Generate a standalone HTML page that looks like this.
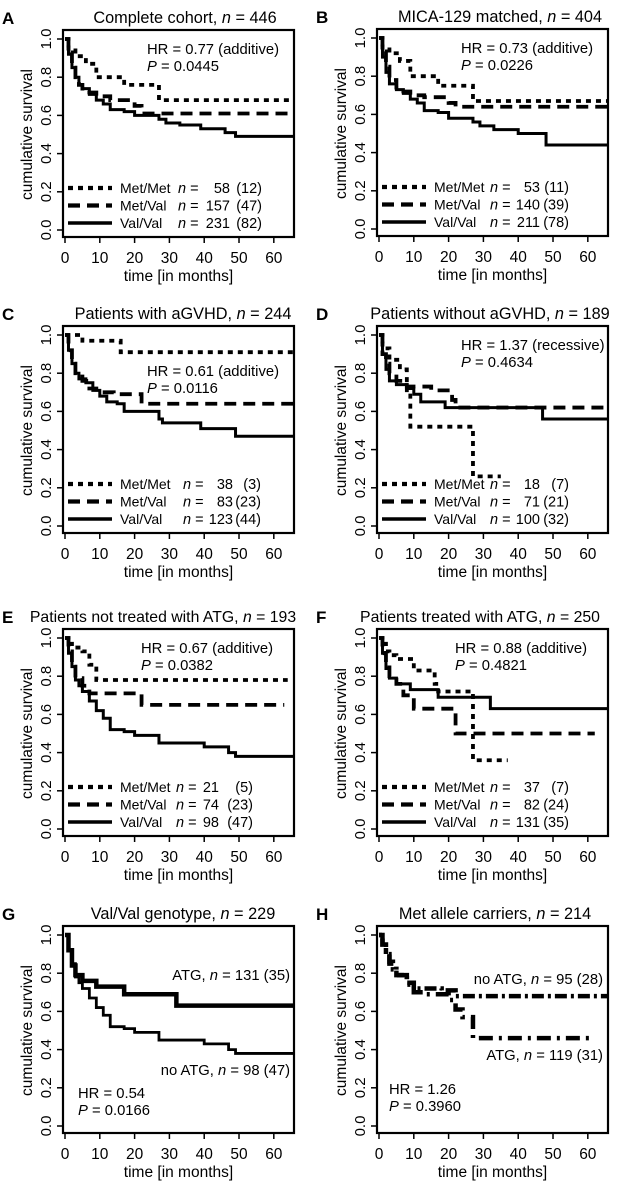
<!DOCTYPE html>
<html><head><meta charset="utf-8">
<style>
html,body{margin:0;padding:0;background:#fff;}
svg{display:block;font-family:"Liberation Sans",Arial,sans-serif;}
</style></head>
<body>
<svg id="fig" width="620" height="1182" viewBox="0 0 620 1182"></svg>
<script>
// ---- data (time in months, survival probability; step starts at each time) ----
const A_mm_t=[0,1,3,6,9,17,27,66], A_mm_s=[1,0.95,0.91,0.87,0.80,0.76,0.68,0.68];
const A_mv_t=[0,1,2,3,4,5,7,9,13,20,22,66], A_mv_s=[1,0.93,0.85,0.80,0.76,0.74,0.72,0.70,0.68,0.65,0.61,0.61];
const A_vv_t=[0,1,2,3,4,5,7,9,11,13,17,20,27,29,33,39,46,49,66], A_vv_s=[1,0.92,0.85,0.80,0.76,0.74,0.71,0.68,0.66,0.63,0.62,0.60,0.58,0.56,0.55,0.53,0.51,0.49,0.49];
const B_mm_t=[0,1,3,6,9,17,27,66], B_mm_s=[1,0.95,0.92,0.88,0.80,0.75,0.67,0.67];
const B_mv_t=[0,1,2,3,5,7,9,13,20,22,66], B_mv_s=[1,0.93,0.85,0.78,0.74,0.72,0.70,0.69,0.66,0.64,0.64];
const B_vv_t=[0,1,2,3,5,7,9,11,13,17,20,27,29,33,40,48,66], B_vv_s=[1,0.90,0.82,0.76,0.73,0.71,0.68,0.66,0.62,0.61,0.58,0.56,0.54,0.52,0.50,0.44,0.44];
const C_mm_t=[0,5,16,66], C_mm_s=[1,0.97,0.91,0.91];
const C_mv_t=[0,1,2,3,5,7,9,14,22,66], C_mv_s=[1,0.92,0.85,0.80,0.76,0.72,0.70,0.69,0.64,0.64];
const C_vv_t=[0,1,2,3,4,6,8,10,12,15,17,27,28,39,49,66], C_vv_s=[1,0.92,0.85,0.80,0.77,0.75,0.71,0.68,0.65,0.64,0.60,0.56,0.54,0.51,0.47,0.47];
const D_mm_t=[0,1,3,6,8,9,27,35], D_mm_s=[1,0.93,0.87,0.82,0.70,0.52,0.26,0.26];
const D_mv_t=[0,1,2,3,5,8,15,21,22,66], D_mv_s=[1,0.90,0.85,0.80,0.76,0.73,0.71,0.66,0.62,0.62];
const D_vv_t=[0,1,2,3,5,8,10,12,19,47,66], D_vv_s=[1,0.90,0.82,0.76,0.74,0.72,0.69,0.65,0.62,0.56,0.56];
const E_mm_t=[0,1,2,5,7,9,64], E_mm_s=[1,0.97,0.95,0.93,0.86,0.78,0.78];
const E_mv_t=[0,1,2,3,5,7,22,63], E_mv_s=[1,0.93,0.85,0.79,0.75,0.71,0.65,0.65];
const E_vv_t=[0,1,2,3,4,5,7,9,11,13,17,20,27,40,47,49,66], E_vv_s=[1,0.92,0.85,0.78,0.75,0.72,0.67,0.62,0.58,0.52,0.51,0.49,0.45,0.43,0.40,0.38,0.38];
const F_mm_t=[0,1,2,3,5,10,16,17,27,37], F_mm_s=[1,0.97,0.93,0.91,0.89,0.83,0.76,0.72,0.36,0.36];
const F_mv_t=[0,1,2,3,5,7,10,22,62], F_mv_s=[1,0.92,0.86,0.80,0.76,0.70,0.63,0.50,0.50];
const F_vv_t=[0,1,2,3,5,9,17,32,66], F_vv_s=[1,0.92,0.84,0.79,0.76,0.73,0.69,0.63,0.63];
const H_no_t=[0,1,2,3,4,5,8,10,18,22,66], H_no_s=[1,0.95,0.90,0.86,0.82,0.79,0.75,0.72,0.71,0.68,0.68];
const H_atg_t=[0,1,2,3,5,8,10,13,20,22,24,27,62], H_atg_s=[1,0.95,0.90,0.85,0.79,0.74,0.70,0.69,0.66,0.61,0.57,0.46,0.46];
const xTicks=[0,10,20,30,40,50,60];
const yTicks=[0,0.2,0.4,0.6,0.8,1.0];
const yTickLabels=["0.0","0.2","0.4","0.6","0.8","1.0"];

const NS="http://www.w3.org/2000/svg";
const svg=document.getElementById('fig');
function mk(tag,parent){const e=document.createElementNS(NS,tag);parent.appendChild(e);return e;}
const STY={mm:{w:3.8,d:"5,5"},mv:{w:3.8,d:"12,7"},vv:{w:3,d:""},atgG:{w:4.5,d:""},noG:{w:2.8,d:""},noH:{w:4.5,d:"3,4,12,4"},atgH:{w:4.5,d:"14,6,3,6"}};

function panel(p){
  const g=mk('g',svg);
  
  
  const L=p.bx, R=p.bx+231, Y1=p.y1, Y0=p.y1+191;
  const xs=t=>L+2+(t)*(R-L-2)/65.8;
  const ys=s=>Y0-s*(Y0-Y1);
  const lt=mk('text',g);lt.textContent=p.letter;
  lt.setAttribute('x',p.bx-61);lt.setAttribute('y',Y1-15);lt.setAttribute('font-size','17');lt.setAttribute('font-weight','bold');
  
  
  const tt=mk('text',g);
  tt.setAttribute('x',p.tx);tt.setAttribute('y',Y1-16);tt.setAttribute('font-size',p.tf||'16.3');tt.setAttribute('text-anchor','middle');
  tt.innerHTML=p.title+', <tspan font-style="italic">n</tspan> = '+p.n;
  
  
  const box=mk('rect',g);
  box.setAttribute('x',L);box.setAttribute('y',Y1-9);box.setAttribute('width',R-L);box.setAttribute('height',Y0-Y1+16);
  box.setAttribute('fill','none');box.setAttribute('stroke','#000');box.setAttribute('stroke-width','2.2');
  
  
  yTicks.forEach((v,i)=>{
    const ln=mk('line',g);ln.setAttribute('x1',L-6);ln.setAttribute('x2',L);ln.setAttribute('y1',ys(v));ln.setAttribute('y2',ys(v));ln.setAttribute('stroke','#000');ln.setAttribute('stroke-width','1.5');
    
    
    const tx=mk('text',g);tx.textContent=yTickLabels[i];
    tx.setAttribute('transform','translate('+(L-12)+','+ys(v)+') rotate(-90)');
    tx.setAttribute('text-anchor','middle');tx.setAttribute('font-size','15');
    
    
  });
  xTicks.forEach(v=>{
    const by=Y0+7;
    const ln=mk('line',g);ln.setAttribute('x1',xs(v));ln.setAttribute('x2',xs(v));ln.setAttribute('y1',by);ln.setAttribute('y2',by+6);ln.setAttribute('stroke','#000');ln.setAttribute('stroke-width','1.5');
    
    
    const tx=mk('text',g);tx.textContent=v;
    tx.setAttribute('x',xs(v));tx.setAttribute('y',Y0+33);tx.setAttribute('text-anchor','middle');tx.setAttribute('font-size','15.5');
    
    
  });
  const yl=mk('text',g);yl.textContent='cumulative survival';
  yl.setAttribute('transform','translate('+(L-31)+','+((Y0+Y1)/2)+') rotate(-90)');
  yl.setAttribute('text-anchor','middle');yl.setAttribute('font-size','15.5');
  
  
  const xl=mk('text',g);xl.textContent='time [in months]';
  xl.setAttribute('x',(L+R)/2);xl.setAttribute('y',Y0+51);xl.setAttribute('text-anchor','middle');xl.setAttribute('font-size','15.5');
  
  
  p.series.forEach(se=>{
    let d='M'+xs(se.t[0])+','+ys(se.s[0]);
    for(let i=1;i<se.t.length;i++){d+=' H'+xs(se.t[i])+' V'+ys(se.s[i]);}
    const pa=mk('path',g);pa.setAttribute('d',d);pa.setAttribute('fill','none');pa.setAttribute('stroke','#000');
    pa.setAttribute('stroke-width',STY[se.k].w);if(STY[se.k].d)pa.setAttribute('stroke-dasharray',STY[se.k].d);
    
    
  });
  p.texts.forEach(t=>{
    const tx=mk('text',g);tx.innerHTML=t.h;
    tx.setAttribute('x',L+t.x);tx.setAttribute('y',Y1+t.y);tx.setAttribute('font-size','14.8');
    if(t.a)tx.setAttribute('text-anchor',t.a);
    
    
  });
  if(p.legend){
    p.legend.forEach((r,i)=>{
      const yy=Y0-42+i*17.5;
      const ln=mk('line',g);ln.setAttribute('x1',L+5);ln.setAttribute('x2',L+49);ln.setAttribute('y1',yy);ln.setAttribute('y2',yy);
      ln.setAttribute('stroke','#000');ln.setAttribute('stroke-width',STY[r.k].w+0.5);if(STY[r.k].d)ln.setAttribute('stroke-dasharray',STY[r.k].d);
      
      
      const t1=mk('text',g);t1.textContent=r.nm;t1.setAttribute('x',L+57);t1.setAttribute('y',yy+5);t1.setAttribute('font-size','14');
      
      
      const t2=mk('text',g);t2.innerHTML='<tspan font-style="italic">n</tspan> =';t2.setAttribute('x',L+p.nx);t2.setAttribute('y',yy+5);t2.setAttribute('font-size','14.5');
      
      
      const t3=mk('text',g);t3.textContent=r.c;t3.setAttribute('x',L+p.cx);t3.setAttribute('y',yy+5);t3.setAttribute('font-size','14.5');t3.setAttribute('text-anchor','end');
      
      
      const t4=mk('text',g);t4.textContent=r.e;t4.setAttribute('x',L+p.ex);t4.setAttribute('y',yy+5);t4.setAttribute('font-size','14.5');t4.setAttribute('text-anchor','end');
      
      
    });
  }
}
const leg=(a,b,c,d,e,f)=>[{k:'mm',nm:'Met/Met',c:a,e:b},{k:'mv',nm:'Met/Val',c:c,e:d},{k:'vv',nm:'Val/Val',c:e,e:f}];
const hr=(h,p,dy,nm)=>[{h:'HR = '+h,x:84,y:dy,nm:'hazard-ratio'},{h:'<tspan font-style="italic">P</tspan> = '+p,x:84,y:dy+17,nm:'p-value'}];
const ser=(p)=>[{name:'met-met',k:'mm',t:p[0],s:p[1]},{name:'met-val',k:'mv',t:p[2],s:p[3]},{name:'val-val',k:'vv',t:p[4],s:p[5]}];
const LC=63, RC=377;
panel({letter:'A',bx:LC,y1:39,tx:185,title:'Complete cohort',n:'446',series:ser([A_mm_t,A_mm_s,A_mv_t,A_mv_s,A_vv_t,A_vv_s]),texts:hr('0.77  (additive)','0.0445',15),legend:leg('58','(12)','157','(47)','231','(82)'),nx:115,cx:167,ex:199});
panel({letter:'B',bx:RC,y1:38,tx:500,title:'MICA-129 matched',n:'404',series:ser([B_mm_t,B_mm_s,B_mv_t,B_mv_s,B_vv_t,B_vv_s]),texts:hr('0.73   (additive)','0.0226',15),legend:leg('53','(11)','140','(39)','211','(78)'),nx:113,cx:163,ex:192});
panel({letter:'C',bx:LC,y1:335,tx:183,title:'Patients with aGVHD',n:'244',series:ser([C_mm_t,C_mm_s,C_mv_t,C_mv_s,C_vv_t,C_vv_s]),texts:hr('0.61 (additive)','0.0116',41),legend:leg('38','(3)','83','(23)','123','(44)'),nx:120,cx:170,ex:198});
panel({letter:'D',bx:RC,y1:335,tx:490,title:'Patients without aGVHD',n:'189',series:ser([D_mm_t,D_mm_s,D_mv_t,D_mv_s,D_vv_t,D_vv_s]),texts:hr('1.37 (recessive)','0.4634',15),legend:leg('18','(7)','71','(21)','100','(32)'),nx:113,cx:163,ex:192});
panel({letter:'E',bx:LC,y1:638,tx:163,tf:'15.8',title:'Patients not treated with ATG',n:'193',series:ser([E_mm_t,E_mm_s,E_mv_t,E_mv_s,E_vv_t,E_vv_s]),texts:hr('0.67   (additive)','0.0382',15).map(o=>(o.x=78,o)),legend:leg('21','(5)','74','(23)','98','(47)'),nx:113,cx:156,ex:190});
panel({letter:'F',bx:RC,y1:638,tx:480,tf:'15.8',title:'Patients treated with ATG',n:'250',series:ser([F_mm_t,F_mm_s,F_mv_t,F_mv_s,F_vv_t,F_vv_s]),texts:hr('0.88   (additive)','0.4821',15).map(o=>(o.x=78,o)),legend:leg('37','(7)','82','(24)','131','(35)'),nx:113,cx:163,ex:192});
panel({letter:'G',bx:LC,y1:935,tx:183,title:'Val/Val genotype',n:'229',series:[{name:'atg',k:'atgG',t:F_vv_t,s:F_vv_s},{name:'no-atg',k:'noG',t:E_vv_t,s:E_vv_s}],
  texts:[{h:'ATG, <tspan font-style="italic">n</tspan> = 131 (35)',x:227,y:45,a:'end',nm:'atg-label'},{h:'no ATG, <tspan font-style="italic">n</tspan> = 98 (47)',x:227,y:140,a:'end',nm:'no-atg-label'},
  {h:'HR = 0.54',x:15,y:163,nm:'hazard-ratio'},{h:'<tspan font-style="italic">P</tspan> = 0.0166',x:15,y:180,nm:'p-value'}]});
panel({letter:'H',bx:RC,y1:935,tx:495,title:'Met allele carriers',n:'214',series:[{name:'no-atg',k:'noH',t:H_no_t,s:H_no_s},{name:'atg',k:'atgH',t:H_atg_t,s:H_atg_s}],
  texts:[{h:'no ATG, <tspan font-style="italic">n</tspan> = 95 (28)',x:226,y:49,a:'end',nm:'no-atg-label'},{h:'ATG, <tspan font-style="italic">n</tspan> = 119 (31)',x:226,y:125,a:'end',nm:'atg-label'},
  {h:'HR = 1.26',x:12,y:159,nm:'hazard-ratio'},{h:'<tspan font-style="italic">P</tspan> = 0.3960',x:12,y:176,nm:'p-value'}]});
</script>
</body></html>
